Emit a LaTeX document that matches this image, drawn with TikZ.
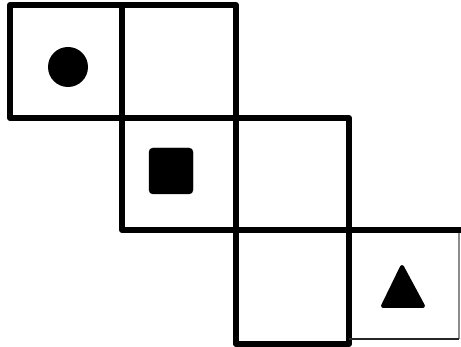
\documentclass[tikz,border=0pt]{standalone}
\begin{document}
\begin{tikzpicture}[x=1pt,y=-1pt,
  gridline/.style={line width=6pt,line join=round,line cap=round,black},
  thinline/.style={line width=2.5pt,black!85},
  faintline/.style={line width=1.5pt,black!45},
  shapefill/.style={fill=black,draw=black,line join=round}]
\useasboundingbox (0,0) rectangle (461,347);
\fill[white] (0,0) rectangle (461,347);
% row 1
\draw[gridline] (10,5) rectangle (122,118);
\draw[gridline] (122,5) rectangle (236,118);
% row 2
\draw[gridline] (122,118) rectangle (236,230);
\draw[gridline] (236,118) rectangle (349,230);
% row 3
\draw[gridline] (236,230) rectangle (349,344);
\draw[faintline] (459,339) -- (459,230);
\draw[thinline] (349,339) -- (459,339);
\draw[gridline,line cap=butt] (349,230) -- (461,230);
% symbols
\fill[black] (68,67) circle (20);
\draw[shapefill,rounded corners=4pt] (149,148) rectangle (193,194);
\draw[shapefill,line width=4pt] (402,267) -- (383,306) -- (423,306) -- cycle;
\end{tikzpicture}
\end{document}
